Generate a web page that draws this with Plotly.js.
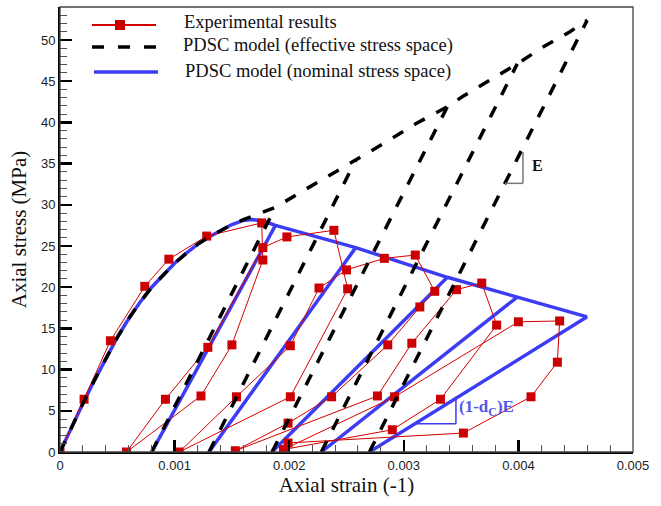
<!DOCTYPE html>
<html>
<head>
<meta charset="utf-8">
<script src="https://cdn.plot.ly/plotly-3.0.1.min.js"></script>
<style>html,body{margin:0;padding:0;background:#fff;}#chart{width:661px;height:506px;}</style>
</head>
<body>
<div id="chart"></div>
<script>
// ---- Experimental results (cyclic loading path) ----
const expStrain = [0, 0.00021, 0.00044, 0.00074, 0.00095, 0.00128, 0.00176,
  0.00177, 0.0015, 0.00123, 0.00058,
  0.00092, 0.00129, 0.00177, 0.00198, 0.00239,
  0.00251, 0.00201, 0.00104,
  0.00154, 0.00201, 0.00226, 0.0025, 0.00283, 0.0031,
  0.00327, 0.00314, 0.00286, 0.00237, 0.00199, 0.00153,
  0.00277, 0.00307, 0.00346, 0.00368,
  0.00381, 0.00332, 0.0029, 0.00195,
  0.00292, 0.004, 0.00436,
  0.00434, 0.00411, 0.00352, 0.00199];
const expStress = [0, 6.4, 13.5, 20.1, 23.4, 26.2, 27.8,
  23.3, 13.0, 6.8, 0,
  6.4, 12.7, 24.8, 26.1, 26.9,
  19.8, 6.7, 0,
  6.7, 12.9, 19.9, 22.1, 23.5, 23.9,
  19.5, 17.6, 13.0, 6.7, 3.5, 0.15,
  6.8, 13.2, 19.7, 20.5,
  15.4, 6.4, 2.7, 0.3,
  6.7, 15.8, 15.9,
  10.9, 6.7, 2.3, 1.1];

// ---- PDSC model, effective stress space: envelope ----
const effEnvStrain = [0, 0.0001, 0.0002, 0.0003, 0.0004, 0.0005, 0.0006, 0.0007, 0.0008, 0.0009,
  0.001, 0.0011, 0.0012, 0.0013, 0.0014, 0.0015, 0.0016, 0.00175, 0.00188, 0.00211, 0.00236,
  0.00258, 0.00282, 0.0031, 0.00338, 0.00352, 0.00373, 0.00399, 0.00421, 0.00445, 0.0046];
const effEnvStress = [0, 3.0, 5.9, 8.7, 11.4, 13.9, 16.2, 18.2, 20.0, 21.5,
  22.9, 24.1, 25.2, 26.1, 26.9, 27.6, 28.2, 29.0, 29.7, 31.6, 33.6,
  35.4, 37.4, 39.8, 41.9, 43.2, 44.9, 47.1, 49.1, 51.0, 52.4];

// ---- PDSC model, nominal stress space: envelope ----
const nomEnvStrain = [0, 0.0001, 0.0002, 0.0003, 0.0004, 0.0005, 0.0006, 0.0007, 0.0008, 0.0009,
  0.001, 0.0011, 0.0012, 0.0013, 0.0014, 0.0015, 0.0016, 0.00168, 0.00178, 0.00188,
  0.00258, 0.00338, 0.00399, 0.0046];
const nomEnvStress = [0, 3.0, 5.9, 8.7, 11.4, 13.9, 16.2, 18.2, 20.0, 21.5,
  22.9, 24.1, 25.2, 26.1, 26.9, 27.6, 28.1, 28.2, 28.0, 27.5,
  24.8, 21.2, 18.8, 16.4];

// ---- unloading / reloading branches ----
const residualStrain = [0.0008, 0.0013, 0.00185, 0.00228, 0.0027];
const unloadStrain   = [0.00188, 0.00258, 0.00338, 0.00399, 0.0046];
const effUnloadStress = [29.7, 35.4, 41.9, 47.1, 52.4];
const nomUnloadStress = [27.5, 24.8, 21.2, 18.8, 16.4];

// ---- legend labels ----
const legendLabels = ["Experimental results", "PDSC model (effective stress space)", "PDSC model (nominal stress space)"];

function branches(topStress) {
  const x = [], y = [];
  residualStrain.forEach((r, i) => {
    x.push(r, unloadStrain[i], null);
    y.push(0, topStress[i], null);
  });
  return {x, y};
}

const BLUE = '#3c3cf5', RED = '#d40000', DASH = '12px,13px';
const nb = branches(nomUnloadStress), eb = branches(effUnloadStress);

const traces = [
  {x: nomEnvStrain, y: nomEnvStress, mode: 'lines', line: {color: BLUE, width: 3.5}, showlegend: false, hoverinfo: 'skip'},
  {x: nb.x, y: nb.y, mode: 'lines', connectgaps: false, line: {color: BLUE, width: 3.5}, showlegend: false, hoverinfo: 'skip'},
  {x: expStrain, y: expStress, mode: 'lines+markers', line: {color: RED, width: 1},
   marker: {symbol: 'square', size: 9, color: '#cc0000'}, showlegend: false},
  {x: effEnvStrain, y: effEnvStress, mode: 'lines', line: {color: '#000', width: 3.5, dash: DASH}, showlegend: false, hoverinfo: 'skip'},
  {x: eb.x, y: eb.y, mode: 'lines', connectgaps: false, line: {color: '#000', width: 3.5, dash: DASH}, showlegend: false, hoverinfo: 'skip'}
];

// pixel helpers for the hand-made legend (plot area: x 60..633, y 7..452)
const px = v => (v - 60) / 573;
const py = v => (452 - v) / 445;

const serif = 'Liberation Serif, Times New Roman, serif';
const legendFont = {family: serif, size: 18.5, color: '#111'};

const layout = {
  width: 661, height: 506,
  margin: {l: 60, r: 28, t: 7, b: 54},
  paper_bgcolor: '#fff', plot_bgcolor: '#fff',
  showlegend: false,
  xaxis: {
    range: [0, 0.005], tick0: 0, dtick: 0.001, ticks: 'inside', ticklen: 12, tickwidth: 2.5, tickcolor: '#000',
    showline: true, linewidth: 2, linecolor: '#000', showgrid: false, zeroline: false,
    minor: {ticks: 'inside', ticklen: 7, dtick: 0.0002, tickwidth: 1, tickcolor: '#555', showgrid: false},
    tickfont: {family: 'Liberation Sans, Arial, sans-serif', size: 13, color: '#222'},
    title: {text: 'Axial strain (-1)', font: {family: serif, size: 21, color: '#111'}, standoff: 6}
  },
  yaxis: {
    range: [0, 54], tick0: 0, dtick: 5, ticks: 'inside', ticklen: 12, tickwidth: 2.5, tickcolor: '#000',
    showline: true, linewidth: 2, linecolor: '#000', showgrid: false, zeroline: false,
    minor: {ticks: 'inside', ticklen: 7, dtick: 1, tickwidth: 1, tickcolor: '#555', showgrid: false},
    tickfont: {family: 'Liberation Sans, Arial, sans-serif', size: 13, color: '#222'},
    title: {text: 'Axial stress (MPa)', font: {family: serif, size: 21, color: '#111'}, standoff: 9}
  },
  shapes: [
    {type: 'rect', xref: 'paper', yref: 'paper', x0: 0, x1: 1, y0: 0, y1: 1, line: {color: '#444', width: 1.3}},
    // legend samples
    {type: 'line', xref: 'paper', yref: 'paper', x0: px(92), x1: px(156), y0: py(25), y1: py(25), line: {color: RED, width: 2}},
    {type: 'rect', xref: 'paper', yref: 'paper', xsizemode: 'pixel', ysizemode: 'pixel', xanchor: px(120), yanchor: py(25),
     x0: -5, x1: 5, y0: -5, y1: 5, fillcolor: '#cc0000', line: {width: 0}},
    {type: 'line', xref: 'paper', yref: 'paper', x0: px(92), x1: px(158), y0: py(47), y1: py(47), line: {color: '#000', width: 3.5, dash: '12px,14px'}},
    {type: 'line', xref: 'paper', yref: 'paper', x0: px(94), x1: px(158), y0: py(72), y1: py(72), line: {color: BLUE, width: 3.5}},
    // slope marks
    {type: 'line', xref: 'x', yref: 'y', x0: 0.003883, x1: 0.00404, y0: 32.6, y1: 32.6, line: {color: '#777', width: 1.5}},
    {type: 'line', xref: 'x', yref: 'y', x0: 0.00404, x1: 0.00404, y0: 32.6, y1: 36.4, line: {color: '#777', width: 1.5}},
    {type: 'line', xref: 'x', yref: 'y', x0: 0.003098, x1: 0.003455, y0: 3.43, y1: 3.43, line: {color: BLUE, width: 1.5}},
    {type: 'line', xref: 'x', yref: 'y', x0: 0.003455, x1: 0.003455, y0: 3.43, y1: 6.7, line: {color: BLUE, width: 1.5}}
  ],
  annotations: [
    {xref: 'paper', yref: 'paper', x: px(182), y: py(22), xanchor: 'left', yanchor: 'middle', showarrow: false, text: legendLabels[0], font: legendFont},
    {xref: 'paper', yref: 'paper', x: px(181), y: py(45), xanchor: 'left', yanchor: 'middle', showarrow: false, text: legendLabels[1], font: legendFont},
    {xref: 'paper', yref: 'paper', x: px(183), y: py(71), xanchor: 'left', yanchor: 'middle', showarrow: false, text: legendLabels[2], font: legendFont},
    {xref: 'x', yref: 'y', x: 0.0041, y: 34.8, xanchor: 'left', yanchor: 'middle', showarrow: false, text: '<b>E</b>', font: {family: serif, size: 16, color: '#111'}},
    {xref: 'x', yref: 'y', x: 0.00346, y: 5.4, xanchor: 'left', yanchor: 'middle', showarrow: false, text: '<b>(1-d<sub>C</sub>)E</b>', font: {family: serif, size: 17, color: '#5555ee'}}
  ]
};

Plotly.newPlot('chart', traces, layout, {displayModeBar: false, staticPlot: true});
</script>
</body>
</html>
